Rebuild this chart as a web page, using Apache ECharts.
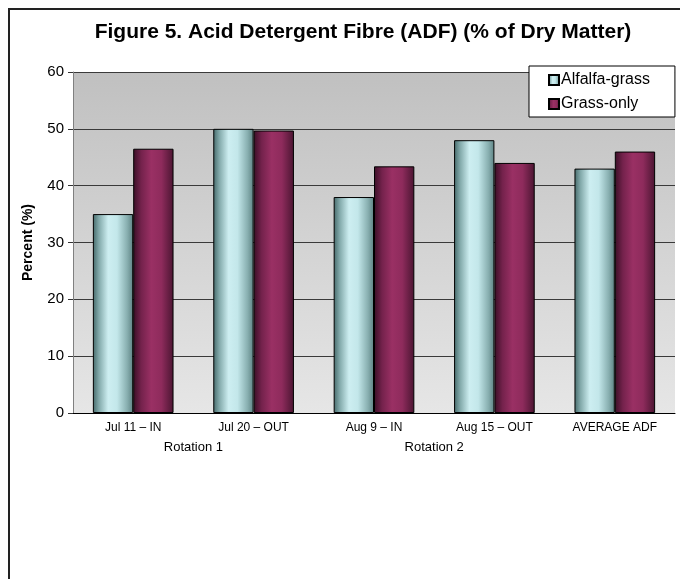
<!DOCTYPE html>
<html>
<head>
<meta charset="utf-8">
<script src="https://cdn.jsdelivr.net/npm/echarts@6/dist/echarts.min.js"></script>
<style>
  html, body { margin: 0; padding: 0; background: #fff; }
  #chart { width: 680px; height: 579px; }
</style>
</head>
<body>
<div id="chart"></div>
<script>
// categories and values
const categories = ['Jul 11 \u2013 IN', 'Jul 20 \u2013 OUT', 'Aug 9 \u2013 IN', 'Aug 15 \u2013 OUT', 'AVERAGE ADF'];
const rotationLabels = ['', '', 'Rotation 1', '', '', '', 'Rotation 2', '', '', '', ''];
const alfalfaGrass = [35, 50, 38, 48, 43];
const grassOnly = [46.5, 49.7, 43.4, 44, 46];

// cylinder-like horizontal gradients
function cyl(stops) {
  return new echarts.graphic.LinearGradient(0, 0, 1, 0,
    stops.map(s => ({ offset: s[0], color: s[1] })));
}
const alfalfaFill = cyl([[0, '#45696a'], [0.15, '#82a9aa'], [0.38, '#cdeef1'], [0.6, '#c3e7ea'], [0.85, '#88afb0'], [1, '#5d8283']]);
const grassFill = cyl([[0, '#3a0f26'], [0.2, '#74224c'], [0.45, '#9a3064'], [0.7, '#8e2b5c'], [1, '#4a1531']]);

const chart = echarts.init(document.getElementById('chart'));

chart.setOption({
  animation: false,
  textStyle: { fontFamily: 'Liberation Sans, Arial, sans-serif' },
  title: {
    text: 'Figure 5. Acid Detergent Fibre (ADF) (% of Dry Matter)',
    left: 358,
    textAlign: 'center',
    top: 17,
    textStyle: { fontSize: 21, fontWeight: 'bold', color: '#000' }
  },
  graphic: [
    {
      // outer frame (runs off the right and bottom edge)
      type: 'rect',
      shape: { x: 9, y: 9, width: 720, height: 620 },
      style: { fill: 'none', stroke: '#222', lineWidth: 2 },
      silent: true
    }
  ],
  legend: {
    orient: 'vertical',
    left: 529,
    top: 66,
    padding: [6, 25, 5, 19],
    itemGap: 8,
    itemWidth: 10,
    itemHeight: 10,
    icon: 'rect',
    backgroundColor: '#fff',
    borderColor: '#000',
    borderWidth: 1,
    borderRadius: 0,
    textStyle: { fontSize: 16, color: '#000', padding: [0, 0, 0, -3] },
    data: ['Alfalfa-grass', 'Grass-only']
  },
  grid: {
    left: 73,
    right: 5,
    top: 72,
    bottom: 166,
    show: true,
    borderWidth: 0,
    backgroundColor: new echarts.graphic.LinearGradient(0, 0, 0, 1, [
      { offset: 0, color: '#c0c0c0' },
      { offset: 1, color: '#e6e6e6' }
    ])
  },
  xAxis: [
    {
      type: 'category',
      data: categories,
      axisLine: { lineStyle: { color: '#000', width: 1 } },
      axisTick: { show: false },
      axisLabel: { fontSize: 12, color: '#000', margin: 9, interval: 0 }
    },
    {
      type: 'category',
      data: rotationLabels,
      position: 'bottom',
      boundaryGap: false,
      axisLine: { show: false },
      axisTick: { show: false },
      splitLine: { show: false },
      axisLabel: { fontSize: 13, color: '#000', margin: 28, interval: 0 }
    }
  ],
  yAxis: {
    type: 'value',
    min: 0,
    max: 60,
    interval: 10,
    name: 'Percent (%)',
    nameLocation: 'middle',
    nameGap: 38,
    nameTextStyle: { fontSize: 14, fontWeight: 'bold', color: '#000' },
    axisLine: { show: true, lineStyle: { color: '#808080' } },
    axisTick: { show: true, length: 5, lineStyle: { color: '#333' } },
    axisLabel: { fontSize: 15, color: '#000', margin: 9 },
    splitLine: { lineStyle: { color: '#3a3a3a', width: 1 } }
  },
  series: [
    {
      name: 'Alfalfa-grass',
      type: 'bar',
      data: alfalfaGrass,
      barGap: '0%',
      barCategoryGap: '33%',
      itemStyle: { color: alfalfaFill, borderColor: '#000', borderWidth: 1 }
    },
    {
      name: 'Grass-only',
      type: 'bar',
      data: grassOnly,
      itemStyle: { color: grassFill, borderColor: '#000', borderWidth: 1 }
    }
  ]
});
</script>
</body>
</html>
